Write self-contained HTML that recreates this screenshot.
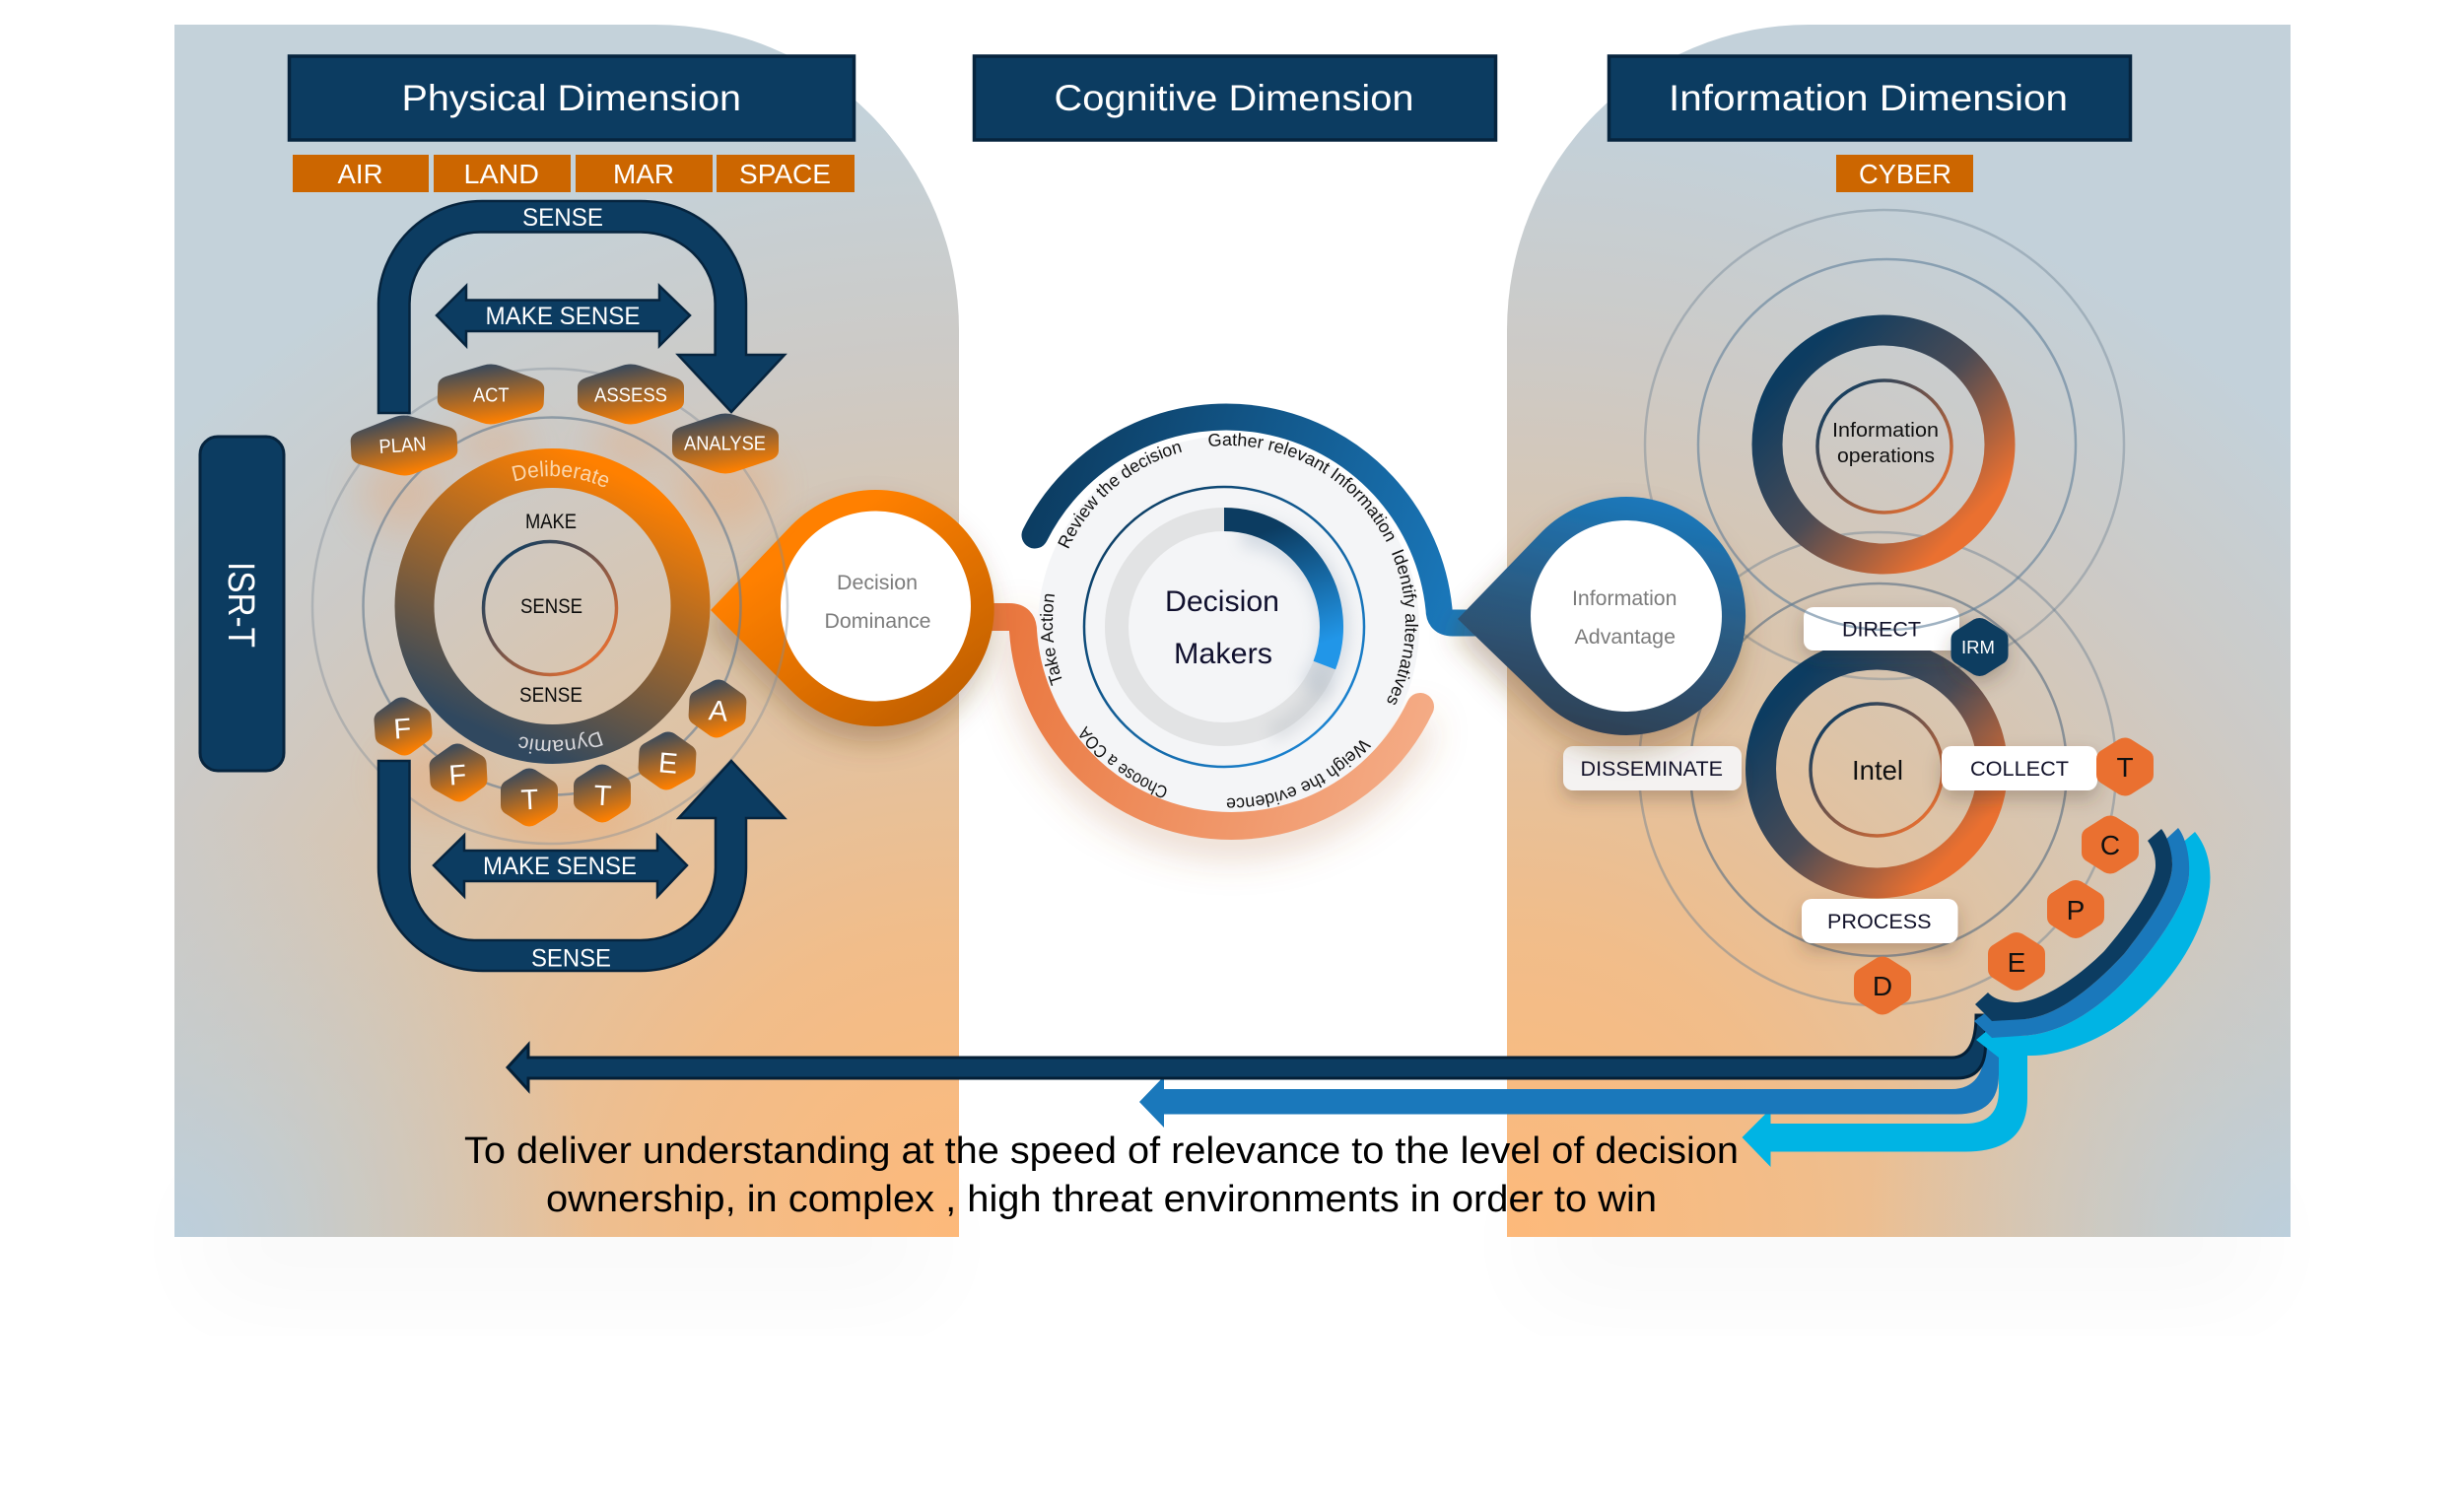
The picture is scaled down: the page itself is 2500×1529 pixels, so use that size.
<!DOCTYPE html>
<html><head><meta charset="utf-8"><style>
html,body{margin:0;padding:0;background:#fff;width:2500px;height:1529px;overflow:hidden}
svg{display:block}
text{font-family:"Liberation Sans",sans-serif}
</style></head><body>
<svg xmlns="http://www.w3.org/2000/svg" width="2500" height="1529" viewBox="0 0 2500 1529">
<defs>
<radialGradient id="pL" gradientUnits="userSpaceOnUse" cx="973" cy="1255" r="1240">
<stop offset="0" stop-color="#fdb97a"/><stop offset=".25" stop-color="#f1bd8a"/><stop offset=".5" stop-color="#dcc4a9"/><stop offset=".72" stop-color="#cdcac6"/><stop offset=".92" stop-color="#c4d2da"/></radialGradient>
<radialGradient id="pR" gradientUnits="userSpaceOnUse" cx="1529" cy="1255" r="1240">
<stop offset="0" stop-color="#fdb97a"/><stop offset=".25" stop-color="#f1bd8a"/><stop offset=".5" stop-color="#dcc4a9"/><stop offset=".72" stop-color="#cdcac6"/><stop offset=".92" stop-color="#c3d1da"/></radialGradient>
<radialGradient id="cL" gradientUnits="userSpaceOnUse" cx="177" cy="1255" r="430"><stop offset="0" stop-color="#bccfdc"/><stop offset=".4" stop-color="#bccfdc" stop-opacity=".55"/><stop offset="1" stop-color="#bccfdc" stop-opacity="0"/></radialGradient>
<radialGradient id="cR" gradientUnits="userSpaceOnUse" cx="2324" cy="1255" r="430"><stop offset="0" stop-color="#bccfdc"/><stop offset=".4" stop-color="#bccfdc" stop-opacity=".55"/><stop offset="1" stop-color="#bccfdc" stop-opacity="0"/></radialGradient>
<linearGradient id="ringO" x1=".8" y1=".05" x2=".35" y2="1"><stop offset="0" stop-color="#ff8000"/><stop offset="1" stop-color="#30485f"/></linearGradient>
<linearGradient id="ringN" x1=".12" y1=".15" x2=".85" y2=".85"><stop offset="0" stop-color="#0c3c61"/><stop offset=".5" stop-color="#4a4b55"/><stop offset="1" stop-color="#ea7030"/></linearGradient>
<linearGradient id="thin" x1=".1" y1=".1" x2=".9" y2=".9"><stop offset="0" stop-color="#0c3c61"/><stop offset="1" stop-color="#ea7030"/></linearGradient>
<linearGradient id="hexG" x1=".35" y1="0" x2=".65" y2="1"><stop offset=".05" stop-color="#3c4a5a"/><stop offset=".95" stop-color="#ff8000"/></linearGradient>
<linearGradient id="tdO" x1="0" y1="0" x2=".8" y2="1"><stop offset=".3" stop-color="#ff8000"/><stop offset="1" stop-color="#bf5f00"/></linearGradient>
<linearGradient id="tdB" x1=".65" y1="0" x2=".4" y2="1"><stop offset="0" stop-color="#1a78bb"/><stop offset=".5" stop-color="#2c5a80"/><stop offset="1" stop-color="#2f3f52"/></linearGradient>
<linearGradient id="thinB" x1=".1" y1=".1" x2=".9" y2=".9"><stop offset="0" stop-color="#0c3c61"/><stop offset="1" stop-color="#1a86d6"/></linearGradient>
<linearGradient id="arcB" gradientUnits="userSpaceOnUse" x1="1050" y1="500" x2="1470" y2="640"><stop offset="0" stop-color="#0c3c61"/><stop offset="1" stop-color="#1a78bb"/></linearGradient>
<linearGradient id="arcO" gradientUnits="userSpaceOnUse" x1="1030" y1="640" x2="1440" y2="760"><stop offset="0" stop-color="#ea7840"/><stop offset="1" stop-color="#f4ab85"/></linearGradient>
<linearGradient id="arcI" gradientUnits="userSpaceOnUse" x1="1280" y1="540" x2="1320" y2="660"><stop offset="0" stop-color="#0c3c61"/><stop offset="1" stop-color="#2196e8"/></linearGradient>
<filter id="b8" x="-50%" y="-50%" width="200%" height="200%"><feGaussianBlur stdDeviation="8"/></filter>
<filter id="b20" x="-50%" y="-50%" width="200%" height="200%"><feGaussianBlur stdDeviation="20"/></filter>
<filter id="b50" x="-30%" y="-30%" width="160%" height="160%"><feGaussianBlur stdDeviation="50"/></filter>
<filter id="sd" x="-30%" y="-30%" width="160%" height="160%"><feDropShadow dx="-4" dy="16" stdDeviation="14" flood-color="#6b4020" flood-opacity=".35"/></filter>
<filter id="sb" x="-30%" y="-60%" width="160%" height="240%"><feDropShadow dx="0" dy="8" stdDeviation="9" flood-color="#4a3a2a" flood-opacity=".3"/></filter>
<path id="c179" d="M1247,452 A179,179 0 1 1 1246.9,452"/>
<path id="c130" d="M560,485 A130,130 0 1 1 559.9,485"/>
<path id="hn" d="M-6,-28 Q0,-31 6,-28 L25,-16 Q29,-13 29,-8 V8 Q29,13 25,16 L6,28 Q0,31 -6,28 L-25,16 Q-29,13 -29,8 V-8 Q-29,-13 -25,-16 Z"/>
<path id="hw" d="M-9,-29 Q0,-32 9,-29 L45,-17 Q54,-14 54,-7 V7 Q54,14 45,17 L9,29 Q0,32 -9,29 L-45,17 Q-54,14 -54,7 V-7 Q-54,-14 -45,-17 Z"/>
</defs>

<!-- soft halos -->
<rect x="200" y="1200" width="750" height="120" fill="#000" opacity=".025" filter="url(#b50)"/>
<rect x="1550" y="1200" width="750" height="120" fill="#000" opacity=".025" filter="url(#b50)"/>

<!-- panels -->
<path d="M177,25 H665 A308,310 0 0 1 973,335 V1255 H177 Z" fill="url(#pL)"/>
<path d="M177,25 H665 A308,310 0 0 1 973,335 V1255 H177 Z" fill="url(#cL)"/>
<path d="M2324,25 H1835 A306,310 0 0 0 1529,335 V1255 H2324 Z" fill="url(#pR)"/>
<path d="M2324,25 H1835 A306,310 0 0 0 1529,335 V1255 H2324 Z" fill="url(#cR)"/>

<!-- headers -->
<g fill="#0c3c61" stroke="#06243e" stroke-width="3.5">
<rect x="293.5" y="57" width="573" height="85"/>
<rect x="988.5" y="57" width="529" height="85"/>
<rect x="1632.5" y="57" width="529" height="85"/>
</g>
<g fill="#fff" font-size="37">
<text x="407.5" y="112" textLength="344.5" lengthAdjust="spacingAndGlyphs">Physical Dimension</text>
<text x="1069.5" y="112" textLength="365" lengthAdjust="spacingAndGlyphs">Cognitive Dimension</text>
<text x="1693" y="112" textLength="405" lengthAdjust="spacingAndGlyphs">Information Dimension</text>
</g>
<g fill="#cc6600">
<rect x="297" y="157" width="138" height="38"/><rect x="440" y="157" width="139" height="38"/><rect x="584" y="157" width="139" height="38"/><rect x="727" y="157" width="140" height="38"/><rect x="1863" y="157" width="139" height="38"/>
</g>
<g fill="#fff" font-size="28">
<text x="342.5" y="186" textLength="46" lengthAdjust="spacingAndGlyphs">AIR</text>
<text x="470.5" y="186" textLength="76.5" lengthAdjust="spacingAndGlyphs">LAND</text>
<text x="622" y="186" textLength="62" lengthAdjust="spacingAndGlyphs">MAR</text>
<text x="750" y="186" textLength="93" lengthAdjust="spacingAndGlyphs">SPACE</text>
<text x="1886" y="186" textLength="94" lengthAdjust="spacingAndGlyphs">CYBER</text>
</g>

<!-- ISR-T -->
<rect x="203" y="443" width="85" height="339" rx="18" fill="#0c3c61" stroke="#06243e" stroke-width="3"/>
<text transform="translate(232,570) rotate(90)" fill="#fff" font-size="38" textLength="87" lengthAdjust="spacingAndGlyphs">ISR-T</text>

<!-- centre disc -->
<path d="M1025,626 H1030 Q1038,626 1038,640 A212,212 0 0 0 1440,718" fill="none" stroke="#b06a40" stroke-opacity=".35" stroke-width="28" filter="url(#b20)" transform="translate(0,14)"/>
<circle cx="1246.5" cy="636" r="193.5" fill="#f4f5f7"/>
<circle cx="1242" cy="636" r="142" fill="none" stroke="url(#thinB)" stroke-width="2.5"/>
<circle cx="1242" cy="636" r="109" fill="none" stroke="#e2e3e4" stroke-width="24"/>
<path d="M1260,540 A97,97 0 0 1 1330,700" fill="none" stroke="#aebccb" stroke-width="30" opacity=".45" filter="url(#b8)"/>
<path d="M1345,690 A118,118 0 0 1 1290,745" fill="none" stroke="#b8bec4" stroke-width="16" opacity=".45" filter="url(#b8)"/>
<path d="M1242,527 A109,109 0 0 1 1343.8,675" fill="none" stroke="url(#arcI)" stroke-width="24"/>
<text x="1182" y="620" fill="#10102e" font-size="30" textLength="116" lengthAdjust="spacingAndGlyphs">Decision</text>
<text x="1191" y="673" fill="#10102e" font-size="30" textLength="100" lengthAdjust="spacingAndGlyphs">Makers</text>

<!-- centre arcs -->
<path d="M985,626 H1024 Q1038,626 1038,640 A212,212 0 0 0 1441,717" fill="none" stroke="url(#arcO)" stroke-width="28" stroke-linecap="round"/>
<path d="M1050,543 A217,217 0 0 1 1460,618 Q1460,632 1474,632 H1530" fill="none" stroke="url(#arcB)" stroke-width="27" stroke-linecap="round"/>

<!-- text on disc -->
<g fill="#111" font-size="18">
<g transform="rotate(-65.8 1247 631)"><text><textPath href="#c179" textLength="158" lengthAdjust="spacingAndGlyphs">Review the decision</textPath></text></g>
<g transform="rotate(-6.7 1247 631)"><text><textPath href="#c179" textLength="219" lengthAdjust="spacingAndGlyphs">Gather relevant Information</textPath></text></g>
<g transform="rotate(66.8 1247 631)"><text><textPath href="#c179" textLength="157" lengthAdjust="spacingAndGlyphs">Identify alternatives</textPath></text></g>
<g transform="rotate(131 1247 631)"><text><textPath href="#c179" textLength="156" lengthAdjust="spacingAndGlyphs">Weigh the evidence</textPath></text></g>
<g transform="rotate(200 1247 631)"><text><textPath href="#c179" textLength="106" lengthAdjust="spacingAndGlyphs">Choose a COA</textPath></text></g>
<g transform="rotate(250 1247 631)"><text><textPath href="#c179" textLength="91" lengthAdjust="spacingAndGlyphs">Take Action</textPath></text></g>
</g>

<!-- left teardrop -->
<path d="M721,619 L803,533 A120,120 0 1 1 803,701 Z" fill="url(#tdO)" filter="url(#sd)"/>
<circle cx="888.5" cy="615" r="96.5" fill="#fff"/>
<text x="849" y="598" fill="#7c7c7c" font-size="21" textLength="82" lengthAdjust="spacingAndGlyphs">Decision</text>
<text x="836.5" y="637" fill="#7c7c7c" font-size="21" textLength="108" lengthAdjust="spacingAndGlyphs">Dominance</text>

<!-- left glows -->
<g filter="url(#b20)" fill="#ff8a30" opacity=".22">
<ellipse cx="410" cy="500" rx="45" ry="40"/><ellipse cx="736" cy="495" rx="50" ry="40"/><ellipse cx="500" cy="450" rx="40" ry="25"/><ellipse cx="640" cy="450" rx="40" ry="25"/>
<ellipse cx="440" cy="790" rx="50" ry="40"/><ellipse cx="570" cy="830" rx="80" ry="30"/>
</g>

<!-- left rings -->
<circle cx="558" cy="615" r="241" fill="none" stroke="#7f8c98" stroke-opacity=".4" stroke-width="2.5"/>
<circle cx="560" cy="615" r="191.5" fill="none" stroke="#6c8092" stroke-opacity=".65" stroke-width="2.5"/>
<circle cx="560.5" cy="615" r="140" fill="none" stroke="url(#ringO)" stroke-width="40"/>
<circle cx="558" cy="617" r="67.5" fill="none" stroke="url(#thin)" stroke-width="3.5"/>
<g transform="rotate(-17 560 615) translate(0,-2)"><text fill="#fbd6ac" font-size="22"><textPath href="#c130" textLength="96" lengthAdjust="spacingAndGlyphs">Deliberate</textPath></text></g>
<g transform="translate(0,6) rotate(158 560 615)"><text fill="#d8d8dc" font-size="21"><textPath href="#c130" textLength="83" lengthAdjust="spacingAndGlyphs">Dynamic</textPath></text></g>
<g fill="#0b0b0b" font-size="21">
<text x="533" y="536" textLength="52" lengthAdjust="spacingAndGlyphs">MAKE</text>
<text x="528" y="622" textLength="63" lengthAdjust="spacingAndGlyphs">SENSE</text>
<text x="527" y="712" textLength="64" lengthAdjust="spacingAndGlyphs">SENSE</text>
</g>

<!-- left arrows -->
<g fill="#0c3c61" stroke="#06243e" stroke-width="2.5" stroke-linejoin="miter">
<path d="M384,419 V308 A105,105 0 0 1 489,204 H650 A107,104 0 0 1 757,308 V360 H796 L742,418 L688,360 H725.6 V308 A76,73 0 0 0 650,235.5 H488 A72,73 0 0 0 415.5,308 V419 Z"/>
<path d="M443,320 L473,290 V304.5 H669 V290 L700,320 L669,351 V336 H473 V351 Z"/>
<path d="M440,878 L471,847.5 V863 H667 V847.5 L697,878 L667,909.5 V894 H471 V909.5 Z"/>
<path d="M384,772 H415.5 V880 A66,74 0 0 0 481,954 H650 A76,74 0 0 0 726,880 V830 H688.6 L742,772 L796,830 H757 V880 A107,105 0 0 1 650,985 H490 A106,105 0 0 1 384,880 Z"/>
</g>
<g fill="#fff" font-size="25">
<text x="530" y="229" textLength="82" lengthAdjust="spacingAndGlyphs">SENSE</text>
<text x="492.5" y="329" textLength="157" lengthAdjust="spacingAndGlyphs">MAKE SENSE</text>
<text x="490" y="887" textLength="156" lengthAdjust="spacingAndGlyphs">MAKE SENSE</text>
<text x="539" y="980.5" textLength="81" lengthAdjust="spacingAndGlyphs">SENSE</text>
</g>

<!-- wide hexes -->
<g fill="url(#hexG)">
<use href="#hw" transform="translate(410,452) rotate(-3)"/>
<use href="#hw" transform="translate(498,400) rotate(2)"/>
<use href="#hw" transform="translate(640,400)"/>
<use href="#hw" transform="translate(736,450)"/>
</g>
<g fill="#fff" font-size="20">
<text transform="translate(385,460) rotate(-4)" textLength="48" lengthAdjust="spacingAndGlyphs">PLAN</text>
<text x="480" y="407.5" textLength="36.5" lengthAdjust="spacingAndGlyphs">ACT</text>
<text x="603" y="407.5" textLength="74" lengthAdjust="spacingAndGlyphs">ASSESS</text>
<text x="694" y="456.5" textLength="83" lengthAdjust="spacingAndGlyphs">ANALYSE</text>
</g>

<!-- narrow hexes -->
<g fill="url(#hexG)">
<use href="#hn" transform="translate(409,737) rotate(-4)"/>
<use href="#hn" transform="translate(465,784) rotate(-3)"/>
<use href="#hn" transform="translate(537,809)"/>
<use href="#hn" transform="translate(611,805)"/>
<use href="#hn" transform="translate(677,772) rotate(3)"/>
<use href="#hn" transform="translate(728,719) rotate(3)"/>
</g>
<g fill="#fff" font-size="29" text-anchor="middle">
<text transform="translate(409,749) rotate(-4)">F</text>
<text transform="translate(465,796) rotate(-4)">F</text>
<text transform="translate(538,821) rotate(-3)">T</text>
<text transform="translate(611,817) rotate(3)">T</text>
<text transform="translate(677,784) rotate(5)">E</text>
<text transform="translate(728,731) rotate(5)">A</text>
</g>

<!-- right thin rings -->
<g fill="none">
<ellipse cx="1912" cy="451" rx="243" ry="238" stroke="#6c8092" stroke-opacity=".4" stroke-width="2.5"/>
<ellipse cx="1905" cy="780" rx="242" ry="240" stroke="#6c8092" stroke-opacity=".45" stroke-width="2.5"/>
<ellipse cx="1906" cy="781" rx="191" ry="189" stroke="#5f7385" stroke-opacity=".65" stroke-width="2.5"/>
<ellipse cx="1911" cy="451" rx="118" ry="116" stroke="url(#ringN)" stroke-width="31"/>
<ellipse cx="1912" cy="453" rx="68" ry="67" stroke="url(#thin)" stroke-width="3.5"/>
<ellipse cx="1904" cy="780" rx="117.5" ry="116" stroke="url(#ringN)" stroke-width="31"/>
<circle cx="1904" cy="781" r="67" stroke="url(#thin)" stroke-width="3.5"/>
</g>
<text x="1859" y="443" fill="#111" font-size="20" textLength="108" lengthAdjust="spacingAndGlyphs">Information</text>
<text x="1864" y="469" fill="#111" font-size="20" textLength="99" lengthAdjust="spacingAndGlyphs">operations</text>
<text x="1879" y="791" fill="#111" font-size="27.5" textLength="52" lengthAdjust="spacingAndGlyphs">Intel</text>

<!-- white boxes -->
<g filter="url(#sb)" fill="#fff">
<rect x="1830" y="616" width="158" height="44" rx="10"/>
<rect x="1970" y="757" width="158" height="45" rx="10"/>
<rect x="1586" y="757" width="181" height="45" rx="10" fill="#f4f2f1"/>
<rect x="1828" y="912" width="158.5" height="45" rx="10"/>
</g>
<ellipse cx="1914.5" cy="451" rx="191.5" ry="188" fill="none" stroke="#5f7f9a" stroke-opacity=".6" stroke-width="2.5"/>
<g fill="#12122a" font-size="21">
<text x="1869" y="645.5" textLength="80" lengthAdjust="spacingAndGlyphs">DIRECT</text>
<text x="1999" y="787" textLength="100" lengthAdjust="spacingAndGlyphs">COLLECT</text>
<text x="1603.5" y="787" textLength="144.5" lengthAdjust="spacingAndGlyphs">DISSEMINATE</text>
<text x="1854" y="942" textLength="105.5" lengthAdjust="spacingAndGlyphs">PROCESS</text>
</g>

<!-- right teardrop -->
<path d="M1479,628 L1564.5,539.5 A121,121 0 1 1 1564.5,710.5 Z" fill="url(#tdB)" filter="url(#sd)"/>
<circle cx="1650" cy="625" r="97" fill="#fff"/>
<text x="1595" y="614" fill="#7c7c7c" font-size="21" textLength="106.5" lengthAdjust="spacingAndGlyphs">Information</text>
<text x="1597.5" y="653" fill="#7c7c7c" font-size="21" textLength="102.5" lengthAdjust="spacingAndGlyphs">Advantage</text>

<!-- right hexes -->
<use href="#hn" transform="translate(2008.5,656.5)" fill="#0c3c61" filter="url(#sb)"/>
<text x="1990" y="663" fill="#fff" font-size="18" textLength="34" lengthAdjust="spacingAndGlyphs">IRM</text>
<g fill="#ea7030">
<use href="#hn" transform="translate(2156,778)"/>
<use href="#hn" transform="translate(2141,857)"/>
<use href="#hn" transform="translate(2106,922.5)"/>
<use href="#hn" transform="translate(2046,975.5)"/>
<use href="#hn" transform="translate(1910,1000)"/>
</g>
<g fill="#111" font-size="28" text-anchor="middle">
<text x="2156" y="788">T</text><text x="2141" y="867">C</text><text x="2106" y="933">P</text><text x="2046" y="986">E</text><text x="1910" y="1010">D</text>
</g>

<!-- bottom straight arrows + swooshes -->
<path d="M1767.5,1154 L1796.5,1125 V1140 H1994 Q2028,1140 2028,1106 V1060 H2057 V1114 Q2057,1168.5 1994,1168.5 H1796.5 V1184 Z" fill="#00b4e4"/>
<path d="M1156,1118 L1181,1092 V1105 H1980 Q2014,1105 2014,1060 H2028 V1090 Q2028,1130.5 1985,1130.5 H1181 V1144 Z" fill="#1a78bb"/>
<path d="M515,1083 L536,1060 V1073 H1980 Q2005,1073 2005,1030 H2014.5 V1060 Q2014.5,1094 1985,1094 H536 V1106 Z" fill="#0c3c61" stroke="#041f36" stroke-width="3"/>
<path d="M2227,844 C2240,860 2244,880 2242,900 C2236,950 2200,1005 2150,1040 C2120,1060 2085,1072 2057,1071 L2028,1073 L2005,1055 L2024,1039 C2030,1046 2038,1051 2050,1051 C2090,1050 2130,1025 2165,985 C2200,945 2222,905 2221,885 C2221,875 2218,866 2212,857 Z" fill="#00b4e4"/>
<path d="M2210,840 C2218,850 2222,870 2221,885 C2222,905 2200,945 2165,985 C2130,1025 2090,1050 2050,1051 L2021,1053 L2003,1036 L2021,1023 C2028,1030 2040,1034 2055,1034 C2090,1030 2125,1000 2155,968 C2185,930 2204,900 2204,877 C2204,868 2201,860 2196,853 Z" fill="#1a78bb"/>
<path d="M2193,841 C2200,850 2204,865 2204,877 C2204,900 2185,930 2155,968 C2125,1000 2090,1030 2055,1034 L2021,1036 L2004,1019 L2017,1007 C2023,1014 2035,1017 2047,1017 C2075,1015 2110,990 2135,965 C2165,930 2188,895 2187,877 C2187,868 2184,860 2179,853 Z" fill="#0c3c61"/>

<!-- caption -->
<g fill="#000" font-size="38">
<text x="471" y="1180" textLength="1293" lengthAdjust="spacingAndGlyphs">To deliver understanding at the speed of relevance to the level of decision</text>
<text x="554" y="1229" textLength="1127" lengthAdjust="spacingAndGlyphs">ownership, in complex , high threat environments in order to win</text>
</g>
</svg>
</body></html>
